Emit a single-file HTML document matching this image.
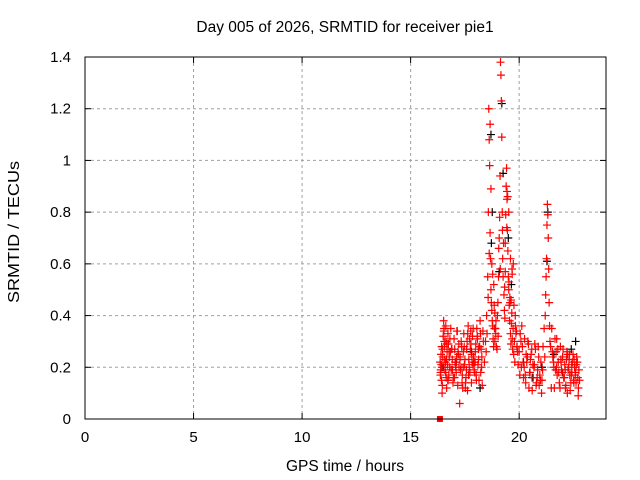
<!DOCTYPE html>
<html><head><meta charset="utf-8"><style>
html,body{margin:0;padding:0;background:#fff;}
svg{display:block;font-family:"Liberation Sans",sans-serif;}
</style></head><body>
<svg id="chart" width="640" height="480" viewBox="0 0 640 480" xmlns="http://www.w3.org/2000/svg">
<rect width="640" height="480" fill="#fff"/>
<g id="grid"></g>
<g id="black"></g>
<g id="red"></g>
<rect x="85" y="57" width="521" height="362" fill="none" stroke="#000" stroke-width="1"/>
<g id="ticks"></g>
<text x="345" y="32" font-size="15.5" text-anchor="middle">Day 005 of 2026, SRMTID for receiver pie1</text>
<text x="345" y="471" font-size="15.5" text-anchor="middle">GPS time / hours</text>
<text transform="translate(19,232) rotate(-90)" font-size="15.5" text-anchor="middle" textLength="142" lengthAdjust="spacingAndGlyphs">SRMTID / TECUs</text>
</svg>
<script>
const xTicks=[0,5,10,15,20];
const yTicks=[0,0.2,0.4,0.6,0.8,1,1.2,1.4];
const yTickLabels=["0","0.2","0.4","0.6","0.8","1","1.2","1.4"];
const redT=[16.36,16.38,16.40,16.42,16.44,16.46,16.48,16.50,16.52,16.54,16.56,16.58,16.60,16.62,16.64,16.66,16.68,16.70,16.72,16.74,16.76,16.78,16.80,16.85,16.90,16.95,17.00,17.05,17.10,17.15,17.20,17.26,17.30,17.35,17.40,17.45,17.50,17.55,17.60,17.65,17.70,17.75,17.80,17.85,17.90,17.95,18.00,18.05,18.10,18.15,18.20,18.25,18.30,18.35,16.45,16.62,16.83,17.02,17.22,17.42,17.62,17.82,18.02,18.22,17.12,17.32,17.52,17.72,17.92,18.12,
16.37,16.41,16.47,16.53,16.57,16.61,16.67,16.71,16.77,16.81,16.87,16.92,16.97,17.03,17.07,17.13,17.17,17.23,17.28,17.33,17.38,17.43,17.48,17.53,17.58,17.63,17.68,17.73,17.78,17.83,17.88,17.93,17.98,18.03,18.08,18.13,18.18,18.23,18.28,18.33,16.39,16.55,16.73,16.89,17.08,17.27,17.47,17.67,17.87,18.07,18.27,16.43,16.65,16.93,17.18,17.37,17.57,17.77,17.97,18.17,
18.40,18.45,18.50,18.55,18.58,18.60,18.62,18.64,18.66,18.68,18.70,18.72,18.74,18.76,18.78,18.80,18.82,18.85,18.88,18.90,18.92,18.95,18.98,19.00,19.02,19.05,19.08,19.10,19.12,19.14,19.16,19.18,19.20,19.22,19.24,19.26,19.28,19.30,19.32,19.34,19.36,19.38,19.40,19.42,19.44,19.46,19.48,19.50,19.52,19.54,19.56,19.58,19.60,19.62,19.64,19.66,19.68,19.70,19.72,19.75,19.78,19.80,19.85,19.90,19.95,18.62,18.70,18.78,18.86,19.36,19.44,19.52,19.60,19.68,19.76,
18.52,18.57,18.66,18.74,18.83,18.93,19.03,19.13,19.23,19.33,19.43,19.53,19.63,19.73,19.83,19.93,18.48,18.88,19.06,19.47,19.57,19.67,19.82,19.88,
20.00,20.05,20.10,20.15,20.20,20.25,20.30,20.35,20.40,20.45,20.50,20.55,20.60,20.65,20.70,20.75,20.80,20.85,20.90,20.95,21.00,21.05,21.10,21.15,21.20,21.22,21.24,21.26,21.28,21.30,21.32,21.34,21.36,21.38,21.40,21.42,21.45,21.50,21.55,21.60,21.65,21.70,21.75,21.80,21.85,21.90,21.95,22.00,22.05,22.10,22.15,22.20,22.25,22.30,22.35,22.40,22.45,22.50,22.55,22.60,22.65,22.70,22.75,20.12,20.32,20.52,20.72,20.92,21.62,21.82,22.02,22.22,22.42,22.62,22.72,21.72,21.92,22.12,22.32,22.52,
20.03,20.08,20.18,20.28,20.38,20.48,20.58,20.68,20.78,20.88,20.98,21.08,21.18,21.48,21.58,21.68,21.78,21.88,21.98,22.08,22.18,22.28,22.38,22.48,22.58,22.68,22.78,20.23,20.43,20.63,20.83,21.03,21.53,21.73,21.93,22.13,22.33,22.53,22.73,22.63,22.43,22.23];
const redV=[0.22,0.18,0.25,0.15,0.20,0.13,0.24,0.32,0.38,0.35,0.28,0.19,0.22,0.30,0.16,0.12,0.26,0.21,0.33,0.29,0.17,0.24,0.20,0.35,0.27,0.14,0.31,0.22,0.18,0.34,0.25,0.06,0.19,0.28,0.12,0.33,0.23,0.16,0.30,0.36,0.20,0.27,0.14,0.32,0.24,0.18,0.29,0.35,0.21,0.15,0.38,0.27,0.13,0.30,0.10,0.36,0.26,0.16,0.29,0.20,0.11,0.25,0.17,0.33,0.24,0.20,0.12,0.31,0.22,0.27,
0.17,0.21,0.27,0.34,0.23,0.18,0.29,0.15,0.26,0.31,0.19,0.23,0.16,0.27,0.21,0.34,0.13,0.20,0.24,0.30,0.17,0.26,0.21,0.14,0.27,0.33,0.23,0.18,0.29,0.22,0.35,0.19,0.26,0.15,0.31,0.23,0.28,0.18,0.24,0.34,0.19,0.30,0.15,0.27,0.20,0.23,0.28,0.17,0.21,0.32,0.20,0.28,0.23,0.19,0.26,0.14,0.19,0.34,0.22,0.28,
0.22,0.30,0.40,0.55,0.80,1.20,1.08,0.98,0.72,0.62,0.50,0.45,0.42,0.38,0.36,0.31,0.28,0.44,0.30,0.35,0.33,0.28,0.27,0.40,0.45,0.55,0.70,0.78,0.94,1.38,1.33,1.23,1.09,0.80,0.62,0.55,0.68,0.48,0.42,0.39,0.68,0.79,0.90,0.97,0.85,0.73,0.65,0.55,0.50,0.44,0.38,0.45,0.33,0.29,0.37,0.41,0.31,0.27,0.35,0.25,0.30,0.22,0.33,0.28,0.21,0.64,0.89,0.56,0.35,0.57,0.88,0.80,0.62,0.56,0.44,
0.33,0.47,1.14,0.60,0.52,0.38,0.32,0.58,0.73,0.51,0.74,0.53,0.46,0.60,0.36,0.26,0.26,0.41,0.66,0.86,0.47,0.58,0.40,0.34,
0.26,0.33,0.20,0.28,0.16,0.31,0.14,0.22,0.30,0.12,0.18,0.25,0.11,0.16,0.21,0.27,0.14,0.19,0.24,0.17,0.22,0.15,0.28,0.35,0.40,0.48,0.55,0.62,0.75,0.83,0.79,0.70,0.58,0.45,0.36,0.30,0.28,0.35,0.24,0.20,0.31,0.26,0.17,0.22,0.14,0.28,0.19,0.24,0.16,0.21,0.13,0.26,0.19,0.23,0.11,0.17,0.22,0.15,0.20,0.18,0.24,0.16,0.19,0.36,0.25,0.23,0.29,0.13,0.12,0.18,0.27,0.10,0.21,0.14,0.09,0.20,0.23,0.19,0.25,0.14,0.17,
0.30,0.22,0.17,0.24,0.18,0.27,0.20,0.13,0.28,0.15,0.19,0.24,0.12,0.22,0.19,0.27,0.12,0.18,0.16,0.23,0.20,0.14,0.25,0.17,0.22,0.15,0.20,0.29,0.21,0.16,0.10,0.26,0.31,0.22,0.12,0.17,0.23,0.12,0.21,0.18,0.25,0.16];
const blackT=[16.50,17.10,17.80,18.20,18.70,18.72,18.76,18.90,19.08,19.20,19.26,19.50,19.64,19.90,20.20,20.60,21.05,21.28,21.32,21.60,22.00,22.40,22.60];
const blackV=[0.20,0.22,0.26,0.12,1.10,0.68,0.80,0.35,0.57,1.22,0.95,0.70,0.52,0.28,0.22,0.16,0.20,0.61,0.80,0.25,0.18,0.27,0.30];
const X=t=>85+t*521/24, Y=v=>419-v*362/1.4;
const NS="http://www.w3.org/2000/svg";
function mk(tag,attrs,parent){const e=document.createElementNS(NS,tag);for(const k in attrs)e.setAttribute(k,attrs[k]);parent.appendChild(e);return e;}
const grid=document.getElementById('grid'),ticks=document.getElementById('ticks');
xTicks.forEach(t=>{const x=X(t);
 if(t>0){const g=mk('line',{x1:x,x2:x,y1:57,y2:419,stroke:'#a0a0a0','stroke-dasharray':'3,3'},grid);
 
 }
 mk('line',{x1:x,x2:x,y1:419,y2:413,stroke:'#000'},ticks);
 mk('line',{x1:x,x2:x,y1:57,y2:63,stroke:'#000'},ticks);
 const l=mk('text',{x:x,y:442,'font-size':15,'text-anchor':'middle'},ticks);l.textContent=t;
 
 });
yTicks.forEach((v,i)=>{const y=Y(v);
 if(v>0&&v<1.4){const g=mk('line',{x1:85,x2:606,y1:y,y2:y,stroke:'#a0a0a0','stroke-dasharray':'3,3'},grid);
 
 }
 mk('line',{x1:85,x2:91,y1:y,y2:y,stroke:'#000'},ticks);
 mk('line',{x1:606,x2:600,y1:y,y2:y,stroke:'#000'},ticks);
 const l=mk('text',{x:71,y:y+5,'font-size':15,'text-anchor':'end'},ticks);l.textContent=yTickLabels[i];
 
 });
function plus(g,t,v,c){const x=X(t),y=Y(v);
 const p=mk('path',{d:`M${x-4},${y}h8M${x},${y-4}v8`,stroke:c,'stroke-width':1.2,fill:'none'},g);
 
 }
const bg=document.getElementById('black'),rg=document.getElementById('red');
blackT.forEach((t,i)=>plus(bg,t,blackV[i],'#000'));
redT.forEach((t,i)=>plus(rg,t,redV[i],'#ff0000'));
const sq=mk('rect',{x:X(16.35)-3,y:416,width:6,height:6,fill:'#ff0000'},rg);


</script>
</body></html>
